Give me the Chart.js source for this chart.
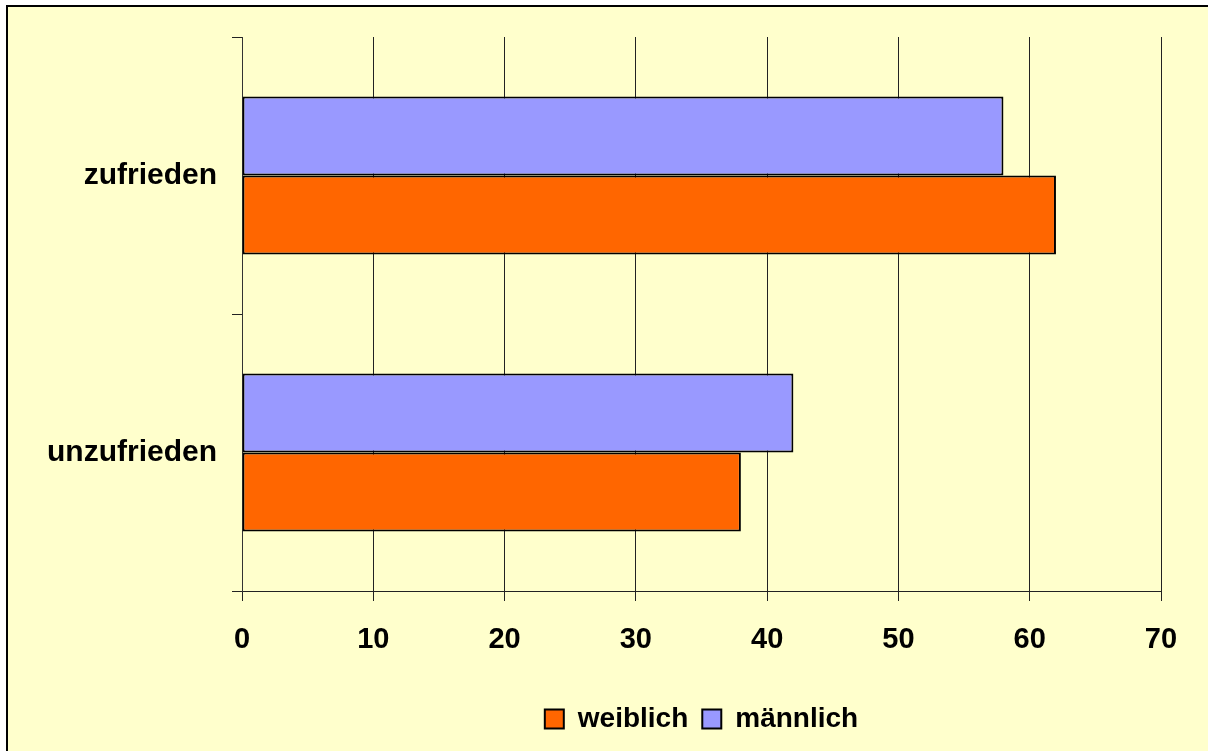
<!DOCTYPE html>
<html>
<head>
<meta charset="utf-8">
<script src="https://cdn.jsdelivr.net/npm/chart.js@4"></script>
<style>
    body { margin: 0; background: #ffffff; overflow: hidden; }
    #box {
        position: absolute; left: 6px; top: 5px; width: 1300px; height: 800px;
        background: #FFFFCC; border-left: 2px solid #000; border-top: 2px solid #000;
    }
    #chart { position: absolute; left: 0; top: 0; }
</style>
</head>
<body>
<div id="box"></div>
<canvas id="chart" width="1208" height="751"></canvas>
<script>
// categories and values
const categories = ['zufrieden', 'unzufrieden']
const maennlich = [58, 42]
const weiblich = [62, 38]
const xMin = 0
const xMax = 70
const xStep = 10

Chart.defaults.font.family = '"Liberation Sans", Arial, sans-serif'
Chart.defaults.font.weight = 'bold'
Chart.defaults.font.size = 28
Chart.defaults.color = '#000'

const canvas = document.getElementById('chart')
const myChart = new Chart(canvas, {
    type: 'bar',
    data: {
        labels: categories,
        datasets: [
            {
                label: 'männlich',
                data: maennlich,
                backgroundColor: '#9999FF',
                borderColor: '#000',
                borderWidth: 2,
                borderSkipped: false
            },
            {
                label: 'weiblich',
                data: weiblich,
                backgroundColor: '#FF6600',
                borderColor: '#000',
                borderWidth: 2,
                borderSkipped: false
            }
        ]
    },
    options: {
        indexAxis: 'y',
        responsive: false,
        animation: false,
        devicePixelRatio: 1,
        categoryPercentage: 0.57,
        barPercentage: 1,
        layout: {
            padding: { top: 37, right: 47, left: 0, bottom: 8 }
        },
        scales: {
            x: {
                min: xMin,
                max: xMax,
                ticks: { stepSize: xStep, padding: 22, font: { size: 29 } },
                grid: { color: '#222', lineWidth: 1, tickLength: 10 },
                border: { color: '#222', width: 1 },
                afterFit: (scale) => { scale.height = 100 }
            },
            y: {
                offset: true,
                ticks: { padding: 15, font: { size: 30 } },
                grid: { offset: true, drawOnChartArea: false, color: '#222', tickLength: 10 },
                border: { color: '#333', width: 1 },
                afterFit: (scale) => { scale.width = 242 }
            }
        },
        plugins: {
            tooltip: { enabled: false },
            legend: {
                position: 'bottom',
                fullSize: false,
                reverse: true,
                labels: {
                    boxWidth: 19,
                    boxHeight: 19,
                    padding: 14,
                    font: { size: 28 }
                }
            }
        }
    }
})
</script>
</body>
</html>
